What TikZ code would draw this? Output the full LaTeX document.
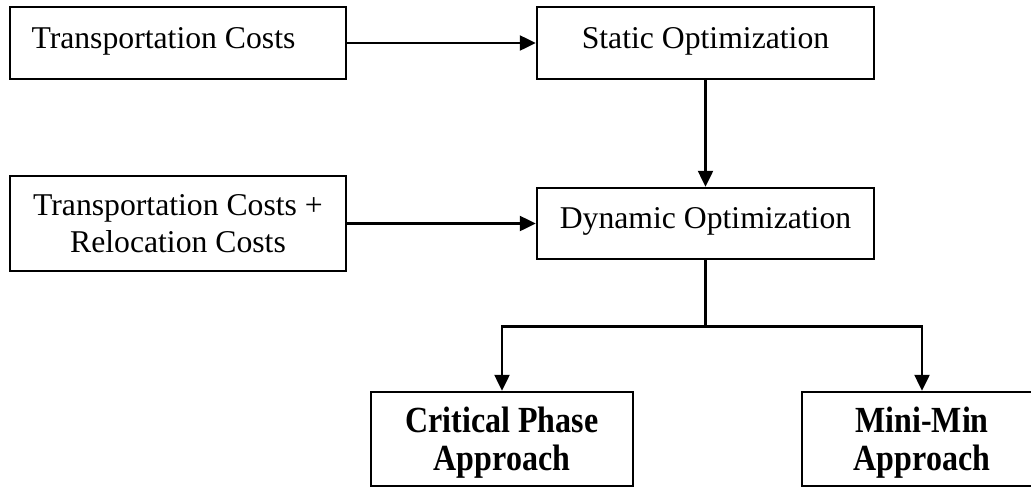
\documentclass[tikz,border=0pt]{standalone}
\usepackage{fontspec}
\setmainfont{Liberation Serif}
\usetikzlibrary{arrows.meta}
\begin{document}
\begin{tikzpicture}[x=1pt,y=1pt,
  box/.style={draw=black, line width=2.5pt, rectangle, inner xsep=0pt, inner ysep=0pt,
    align=center, font=\fontsize{31.7}{37}\selectfont},
  result/.style={box, font=\bfseries\fontsize{32}{38}\selectfont},
  flow/.style={line width=2.5pt, -{Triangle[length=16pt,width=15pt]}},
  link/.style={line width=2.5pt}]
\useasboundingbox[fill=white] (0,0) rectangle (1031,-488);

% cost inputs
\node[box, minimum width=336pt, text height=41pt, text depth=31pt] (tc) at (178,-43)
  {\makebox[336pt][l]{\hspace{21.5pt}Transportation Costs}};
\node[box, minimum width=336pt, text height=76pt, text depth=19pt] (trc) at (178,-223.5)
  {Transportation Costs +\\Relocation Costs};

% optimization stages
\node[box, minimum width=337pt, text height=41pt, text depth=31pt] (so) at (705.5,-43)
  {Static Optimization};
\node[box, minimum width=337pt, text height=40pt, text depth=31pt] (do) at (705.5,-223.5)
  {Dynamic Optimization};

% solution approaches
\node[result, minimum width=262pt, text height=78pt, text depth=16pt] (cp) at (502,-439)
  {\scalebox{1}[1.15]{Critical Phase}\\\scalebox{1}[1.15]{Approach}};
\node[result, minimum width=240pt, text height=78pt, text depth=16pt] (mm) at (922,-439)
  {\scalebox{1}[1.15]{Mini-Min}\\\scalebox{1}[1.15]{Approach}};

% connectors
\draw[flow] (tc.east) -- (so.west);
\draw[flow] (so.south) -- (do.north);
\draw[flow] (trc.east) -- (do.west);
\draw[link] (do.south) -- ++(0,-66) coordinate (split);
\draw[flow] (split) -| (cp.north);
\draw[flow] (split) -| (mm.north);
\end{tikzpicture}
\end{document}
